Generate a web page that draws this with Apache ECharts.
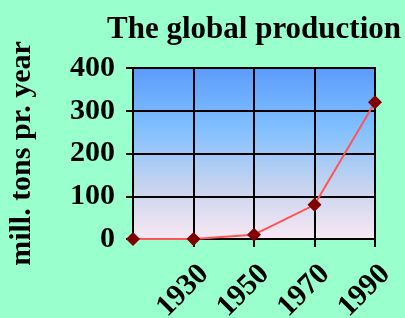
<!DOCTYPE html>
<html>
<head>
<meta charset="utf-8">
<script src="https://cdn.jsdelivr.net/npm/echarts@6/dist/echarts.min.js"></script>
<style>
  html, body { margin: 0; padding: 0; background: #99ffcc; }
  #main { width: 405px; height: 318px; }
</style>
</head>
<body>
<div id="main"></div>
<script>
// years and production (mill. tons per year)
var years = ['1910', '1930', '1950', '1970', '1990'];
var production = [0, 0, 10, 80, 320];
var yTicks = [0, 100, 200, 300, 400];

var chart = echarts.init(document.getElementById('main'));
var serif = '"Liberation Serif", "DejaVu Serif", serif';

chart.setOption({
    backgroundColor: '#99ffcc',
    title: {
        text: 'The global production',
        left: 249,
        top: 9,
        textAlign: 'center',
        textStyle: { fontFamily: serif, fontWeight: 'bold', fontSize: 31, color: '#000' }
    },
    grid: {
        left: 133, top: 68, width: 242, height: 171,
        containLabel: false,
        outerBoundsMode: 'none',
        show: true,
        borderColor: '#000',
        borderWidth: 2,
        backgroundColor: {
            type: 'linear', x: 0, y: 0, x2: 0, y2: 1,
            colorStops: [
                { offset: 0, color: '#5b9bfa' },
                { offset: 0.35, color: '#80bfff' },
                { offset: 0.7, color: '#c8d4ee' },
                { offset: 1, color: '#fae8f4' }
            ]
        }
    },
    xAxis: {
        type: 'category',
        data: years,
        boundaryGap: false,
        axisLine: { lineStyle: { color: '#000', width: 2 } },
        axisTick: { show: true, length: 8, lineStyle: { color: '#000', width: 2 } },
        splitLine: { show: true, lineStyle: { color: '#000', width: 2 } },
        axisLabel: {
            rotate: 45,
            margin: 20,
            verticalAlign: 'top',
            interval: function (i) { return i > 0; },
            fontFamily: serif, fontWeight: 'bold', fontSize: 30, color: '#000'
        }
    },
    yAxis: {
        type: 'value',
        min: yTicks[0],
        max: yTicks[yTicks.length - 1],
        interval: 100,
        name: 'mill. tons pr. year',
        nameLocation: 'middle',
        nameGap: 96,
        nameTextStyle: { fontFamily: serif, fontWeight: 'bold', fontSize: 30, color: '#000' },
        axisLine: { show: true, lineStyle: { color: '#000', width: 2 } },
        axisTick: { show: true, length: 7, lineStyle: { color: '#000', width: 2 } },
        splitLine: { show: true, lineStyle: { color: '#000', width: 2 } },
        axisLabel: {
            margin: 18,
            fontFamily: serif, fontWeight: 'bold', fontSize: 30, color: '#000'
        }
    },
    series: [{
        type: 'line',
        data: production,
        symbol: 'diamond',
        symbolSize: 14,
        itemStyle: { color: '#800000' },
        lineStyle: { color: '#ff5555', width: 2 },
        animation: false
    }]
});
</script>
</body>
</html>
